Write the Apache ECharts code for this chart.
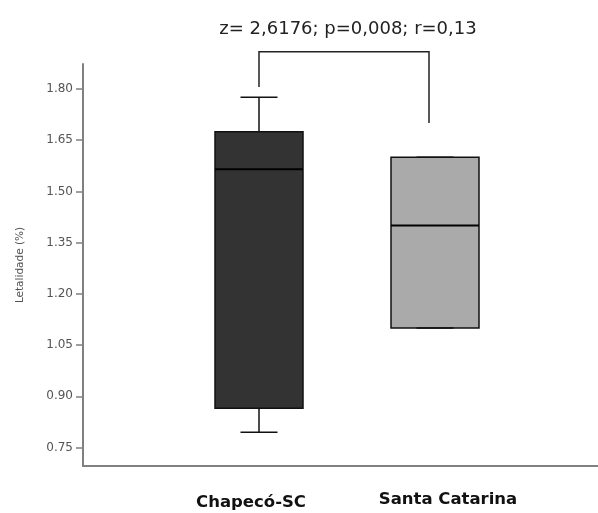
<!DOCTYPE html>
<html><head><meta charset="utf-8">
<script src="https://cdn.jsdelivr.net/npm/echarts@6/dist/echarts.min.js"></script>
<style>html,body{margin:0;padding:0;background:#fff}#c{width:598px;height:513px}</style>
</head><body><div id="c"></div>
<script>
const categories = ['', 'Chapecó-SC', 'Santa Catarina', ''];
// [categoryIndex, min, Q1, median, Q3, max]
const boxChapeco = [1, 0.795, 0.865, 1.565, 1.675, 1.776];
const boxSC = [2, 1.10, 1.10, 1.40, 1.60, 1.60];
const boxColors = ['#333333', '#aaaaaa'];
const yTicks = [0.75, 0.90, 1.05, 1.20, 1.35, 1.50, 1.65, 1.80];
// [leftIndex, rightIndex, top, leftBottom, rightBottom]
const bracket = [1, 2, 1.909, 1.806, 1.700];
const statText = 'z= 2,6176; p=0,008; r=0,13';

const chart = echarts.init(document.getElementById('c'));
const BOXW = 88, CAPW = 37;
const labelPad = { 'Chapecó-SC': [4, 16, 0, 0], 'Santa Catarina': [1, 0, 0, 26] };
chart.setOption({
  animation: false,
  title: {
    text: statText, left: 343, top: 15, textAlign: 'center',
    textStyle: { fontFamily: 'DejaVu Sans', fontSize: 18, fontWeight: 'normal', color: '#222' }
  },
  grid: { left: 83, top: 64, bottom: 47, width: 528, outerBoundsMode: 'none', containLabel: false },
  xAxis: {
    type: 'category', boundaryGap: false,
    data: categories.map(c => ({ value: c, textStyle: { padding: labelPad[c] || [0, 0, 0, 0] } })),
    axisLine: { lineStyle: { color: '#808080', width: 2 } },
    axisTick: { show: false },
    axisLabel: { interval: 0, hideOverlap: false, margin: 24, fontFamily: 'DejaVu Sans', fontWeight: 'bold', fontSize: 16.5, color: '#111' }
  },
  yAxis: {
    type: 'value', min: 0.696, max: 1.873,
    name: 'Letalidade (%)', nameLocation: 'middle', nameGap: 57,
    nameTextStyle: { fontFamily: 'DejaVu Sans', fontSize: 10.5, color: '#555' },
    splitLine: { show: false },
    axisLine: { show: true, lineStyle: { color: '#808080', width: 2 } },
    axisTick: { show: true, length: 7, customValues: yTicks, lineStyle: { color: '#808080', width: 1.5 } },
    axisLabel: {
      customValues: yTicks, margin: 10, fontFamily: 'DejaVu Sans', fontSize: 12, color: '#555',
      formatter: v => v.toFixed(2)
    }
  },
  series: [
    {
      type: 'custom', clip: false,
      data: [boxChapeco, boxSC],
      renderItem: (params, api) => {
        const x = api.value(0);
        const pMin = api.coord([x, api.value(1)]);
        const pQ1 = api.coord([x, api.value(2)]);
        const pMed = api.coord([x, api.value(3)]);
        const pQ3 = api.coord([x, api.value(4)]);
        const pMax = api.coord([x, api.value(5)]);
        const cx = pMin[0];
        const ls = { stroke: '#111', lineWidth: 1.5 };
        return {
          type: 'group', children: [
            { type: 'line', shape: { x1: cx, y1: pMax[1], x2: cx, y2: pQ3[1] }, style: ls },
            { type: 'line', shape: { x1: cx, y1: pQ1[1], x2: cx, y2: pMin[1] }, style: ls },
            { type: 'rect', shape: { x: cx - BOXW / 2, y: pQ3[1], width: BOXW, height: pQ1[1] - pQ3[1] },
              style: { fill: boxColors[params.dataIndex], stroke: '#111', lineWidth: 1.5 } },
            { type: 'line', shape: { x1: cx - BOXW / 2, y1: pMed[1], x2: cx + BOXW / 2, y2: pMed[1] }, style: { stroke: '#000', lineWidth: 2 } },
            { type: 'line', shape: { x1: cx - CAPW / 2, y1: pMax[1], x2: cx + CAPW / 2, y2: pMax[1] }, style: ls },
            { type: 'line', shape: { x1: cx - CAPW / 2, y1: pMin[1], x2: cx + CAPW / 2, y2: pMin[1] }, style: ls }
          ]
        };
      }
    },
    {
      type: 'custom', clip: false,
      data: [bracket],
      renderItem: (params, api) => {
        const a = api.coord([api.value(0), api.value(2)]);
        const b = api.coord([api.value(1), api.value(2)]);
        const la = api.coord([api.value(0), api.value(3)]);
        const rb = api.coord([api.value(1), api.value(4)]);
        return {
          type: 'polyline',
          shape: { points: [[la[0], la[1]], [a[0], a[1]], [b[0] - 6, b[1]], [rb[0] - 6, rb[1]]] },
          style: { stroke: '#222', lineWidth: 1.5, fill: null }
        };
      }
    }
  ]
});
</script></body></html>
